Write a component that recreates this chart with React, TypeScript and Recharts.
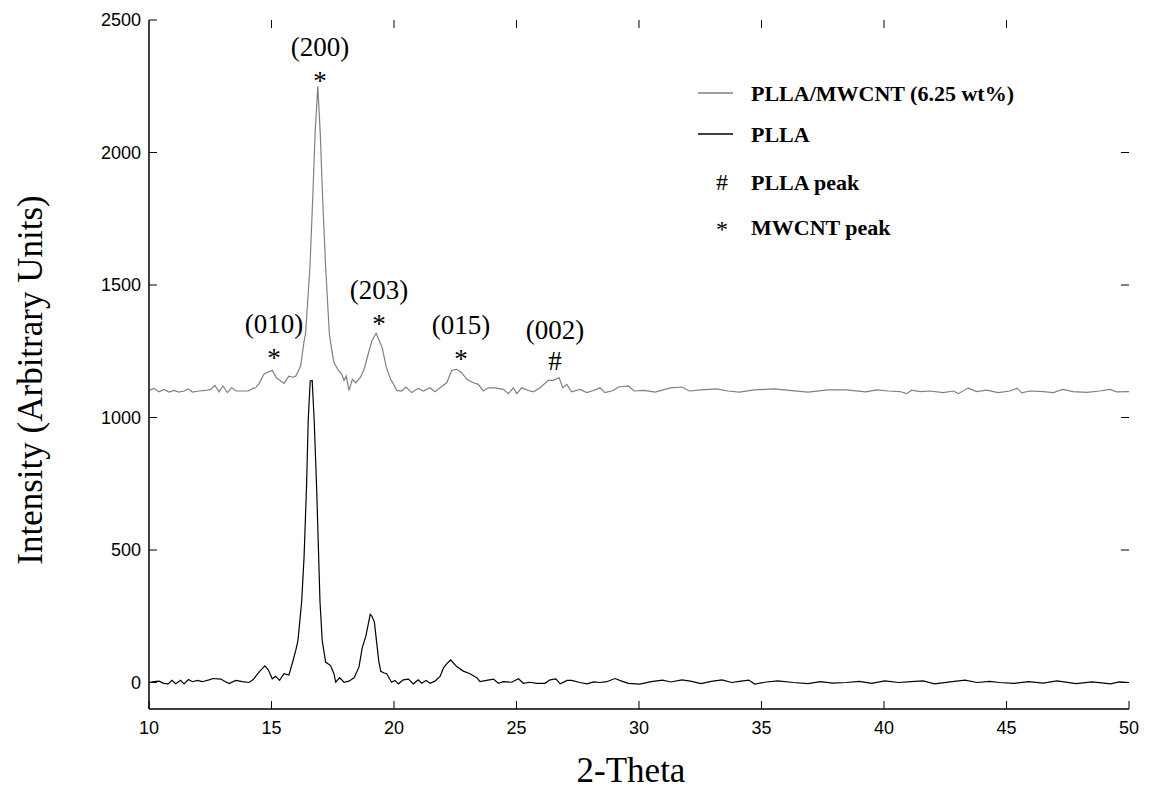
import React from 'react'
import { LineChart, Line, XAxis, YAxis, Scatter, ReferenceLine, Customized } from 'recharts'

// 2-theta / intensity, PLLA (black trace)
const pllaTheta = [
  10.0, 10.2, 10.41, 10.61, 10.79, 10.93, 11.09, 11.29, 11.43, 11.61, 11.77, 11.97, 12.18, 12.45, 12.61, 12.93,
  13.1, 13.27, 13.54, 13.81, 14.08, 14.24, 14.49, 14.73, 14.87, 15.03, 15.17, 15.33, 15.51, 15.71, 15.88, 15.99,
  16.08, 16.23, 16.33, 16.43, 16.5, 16.58, 16.66, 16.74, 16.84, 16.98, 17.07, 17.21, 17.41, 17.55, 17.62, 17.78,
  17.96, 18.16, 18.37, 18.57, 18.7, 18.85, 18.95, 19.03, 19.1, 19.2, 19.3, 19.38, 19.46, 19.6, 19.7, 19.9,
  20.04, 20.18, 20.38, 20.59, 20.79, 20.99, 21.13, 21.31, 21.47, 21.67, 21.88, 22.02, 22.15, 22.31, 22.56, 22.83,
  23.1, 23.38, 23.51, 23.78, 24.06, 24.26, 24.46, 24.8, 25.08, 25.28, 25.55, 25.82, 26.16, 26.37, 26.61, 26.78,
  27.07, 27.25, 27.59, 27.87, 28.15, 28.41, 28.68, 29.02, 29.29, 29.57, 30.03, 30.5, 30.97, 31.3, 31.75, 32.1,
  32.53, 32.95, 33.39, 33.78, 34.1, 34.48, 34.72, 35.2, 35.66, 36.3, 36.9, 37.4, 37.9, 38.47, 39.0, 39.5,
  40.03, 40.6, 41.1, 41.6, 42.06, 42.7, 43.31, 43.8, 44.3, 44.72, 45.3, 45.9, 46.5, 47.06, 47.84, 48.5,
  49.25, 49.6, 50.0,
]
const pllaIntensity = [
  0, 3, 5, -3, -5, 8, -5, 8, -5, 11, 3, 8, 3, 10, 15, 13,
  4, -4, 8, 3, 0, 10, 39, 63, 48, 14, 23, 8, 33, 28, 83, 121,
  158, 304, 475, 740, 994, 1138, 1140, 994, 740, 304, 158, 77, 64, 33, 1, 18,
  1, 5, 18, 58, 130, 175, 220, 257, 250, 228, 145, 80, 42, 36, 33, 1,
  8, -5, 10, 13, -5, 10, -3, 8, -3, 5, 23, 55, 70, 85, 60, 43,
  33, 18, 3, 8, 13, -3, 3, 1, 14, -3, 1, -3, -3, 10, 14, -5,
  8, 8, 0, -5, 2, 0, 3, 15, 5, -3, -6, 3, 9, 2, 10, 5,
  -4, 4, 10, 0, 4, 9, -6, 2, 6, 0, -4, 3, -2, 0, 4, -3,
  6, 0, 3, 6, -5, 2, 9, 0, 4, 0, -3, 3, -2, 6, -4, 2,
  -5, 2, 0,
]

// PLLA/MWCNT (6.25 wt%) (grey trace)
const compTheta = [
  10.0, 10.2, 10.41, 10.61, 10.82, 11.02, 11.22, 11.43, 11.6, 11.77, 12.04, 12.31, 12.52, 12.69, 12.86, 13.02,
  13.2, 13.37, 13.56, 13.81, 14.05, 14.22, 14.35, 14.49, 14.69, 14.87, 15.03, 15.2, 15.35, 15.51, 15.71, 15.85,
  15.99, 16.19, 16.33, 16.39, 16.57, 16.68, 16.78, 16.89, 16.99, 17.09, 17.21, 17.36, 17.45, 17.55, 17.73, 17.86,
  17.96, 18.05, 18.16, 18.3, 18.44, 18.64, 18.78, 18.98, 19.1, 19.27, 19.4, 19.52, 19.69, 19.86, 19.97, 20.11,
  20.31, 20.49, 20.72, 20.99, 21.2, 21.47, 21.67, 21.88, 22.15, 22.36, 22.56, 22.76, 22.97, 23.24, 23.44, 23.65,
  23.85, 24.12, 24.46, 24.67, 24.87, 25.01, 25.21, 25.48, 25.69, 25.96, 26.3, 26.5, 26.74, 26.89, 27.05, 27.25,
  27.59, 27.87, 28.14, 28.41, 28.61, 28.95, 29.16, 29.57, 29.8, 30.2, 30.66, 31.28, 31.75, 32.06, 32.53, 33.16,
  33.63, 34.09, 34.72, 35.5, 36.13, 36.9, 37.7, 38.47, 39.25, 39.72, 40.19, 40.65, 40.92, 41.13, 41.47, 41.87,
  42.42, 42.83, 43.03, 43.44, 43.78, 44.19, 44.66, 45.14, 45.44, 45.62, 45.96, 46.5, 46.91, 47.29, 47.72, 48.27,
  48.81, 49.22, 49.49, 50.0,
]
const compIntensity = [
  1102, 1110, 1097, 1106, 1096, 1102, 1096, 1100, 1108, 1096, 1100, 1102, 1106, 1121, 1097, 1119,
  1094, 1112, 1100, 1100, 1100, 1109, 1112, 1128, 1163, 1172, 1178, 1150, 1140, 1129, 1156, 1152,
  1156, 1194, 1288, 1316, 1568, 1821, 2073, 2250, 2073, 1821, 1568, 1316, 1260, 1207, 1178, 1165,
  1140, 1156, 1102, 1144, 1131, 1153, 1182, 1251, 1290, 1318, 1290, 1263, 1188, 1144, 1128, 1102,
  1100, 1115, 1094, 1110, 1100, 1112, 1097, 1112, 1131, 1178, 1182, 1169, 1144, 1131, 1125, 1100,
  1112, 1112, 1106, 1090, 1112, 1090, 1112, 1102, 1097, 1112, 1140, 1140, 1150, 1112, 1125, 1097,
  1106, 1094, 1102, 1112, 1094, 1102, 1115, 1119, 1100, 1102, 1096, 1112, 1115, 1100, 1104, 1108,
  1100, 1096, 1104, 1108, 1102, 1096, 1104, 1104, 1097, 1104, 1100, 1098, 1090, 1103, 1098, 1100,
  1094, 1100, 1090, 1111, 1098, 1103, 1094, 1100, 1111, 1093, 1100, 1098, 1094, 1106, 1098, 1095,
  1100, 1106, 1097, 1098,
]

// peak annotations on the grey trace
const peakTheta = [15.1, 16.98, 19.39, 22.73, 26.57]
const peakMarkY = [1236, 2280, 1364, 1232, 1213]
const peakHkl = ['(010)', '(200)', '(203)', '(015)', '(002)']
const peakMark = ['*', '*', '*', '*', '#']

const xTicks = [10, 15, 20, 25, 30, 35, 40, 45, 50]
const yTicks = [0, 500, 1000, 1500, 2000, 2500]
const X_MIN = 10
const X_MAX = 50
const Y_MIN = -100
const Y_MAX = 2500

const pllaData = pllaTheta.map((x, i) => ({ x, y: pllaIntensity[i] }))
const compData = compTheta.map((x, i) => ({ x, y: compIntensity[i] }))
const peakData = peakTheta.map((x, i) => ({ x, y: peakMarkY[i], hkl: peakHkl[i], mark: peakMark[i] }))

// inner tick length on top / right edges, in data units (about 8px)
const topTickLen = 30
const rightTickLen = 0.33

const SERIF = '"Liberation Serif", "Times New Roman", serif'
const SANS = '"Liberation Sans", Arial, sans-serif'

// ticks point into the plot box
const BottomTick = (props: any) => {
  const { x, y, payload } = props
  return (
    <g>
      <line x1={x} x2={x} y1={y} y2={y - 8} stroke="#000" strokeWidth={1} />
      <text x={x} y={y + 25} textAnchor="middle" fontFamily={SANS} fontSize={18} fill="#000">
        {payload.value}
      </text>
    </g>
  )
}

const LeftTick = (props: any) => {
  const { x, y, payload } = props
  return (
    <g>
      <line x1={x} x2={x + 8} y1={y} y2={y} stroke="#000" strokeWidth={1} />
      <text x={x - 8} y={y + 6} textAnchor="end" fontFamily={SANS} fontSize={18} fill="#000">
        {payload.value}
      </text>
    </g>
  )
}

const PeakLabel = (props: any) => {
  const { cx, cy, payload } = props
  const markBase = payload.mark === '*' ? cy + 12 : cy + 9
  return (
    <g>
      <text x={cx} y={cy - 22} textAnchor="middle" fontFamily={SERIF} fontSize={27} fill="#000">
        {payload.hkl}
      </text>
      <text x={cx} y={markBase} textAnchor="middle" fontFamily={SERIF} fontSize={27} fill="#000">
        {payload.mark}
      </text>
    </g>
  )
}

// titles and legend
const Decorations = () => {
  const rows = [
    { y: 93, kind: 'line', color: '#808080', text: 'PLLA/MWCNT (6.25 wt%)' },
    { y: 134, kind: 'line', color: '#000', text: 'PLLA' },
    { y: 182, kind: '#', color: '#000', text: 'PLLA peak' },
    { y: 227, kind: '*', color: '#000', text: 'MWCNT peak' },
  ]
  return (
    <g>
      <text x={631} y={782} textAnchor="middle" fontFamily={SERIF} fontSize={35} fill="#000">
        2-Theta
      </text>
      <text
        transform="translate(42, 380) rotate(-90)"
        textAnchor="middle"
        fontFamily={SERIF}
        fontSize={35}
        fill="#000"
      >
        Intensity (Arbitrary Units)
      </text>
      {rows.map((r) => (
        <g key={r.text}>
          {r.kind === 'line' ? (
            <line x1={698} x2={733} y1={r.y} y2={r.y} stroke={r.color} strokeWidth={1.5} />
          ) : (
            <text
              x={722}
              y={r.kind === '*' ? r.y + 10 : r.y + 8}
              textAnchor="middle"
              fontFamily={SERIF}
              fontSize={24}
              fill="#000"
            >
              {r.kind}
            </text>
          )}
          <text x={751} y={r.y + 8} fontFamily={SERIF} fontSize={22} fontWeight="bold" fill="#000">
            {r.text}
          </text>
        </g>
      ))}
    </g>
  )
}

export default function App() {
  return (
    <div style={{ position: 'absolute', left: 0, top: 0, background: '#fff' }}>
      <LineChart width={1155} height={792} margin={{ top: 20, right: 26, bottom: 53, left: 89 }}>
        <XAxis
          dataKey="x"
          type="number"
          domain={[X_MIN, X_MAX]}
          ticks={xTicks}
          interval={0}
          allowDataOverflow
          height={30}
          tickSize={0}
          tickMargin={0}
          tick={<BottomTick />}
          axisLine={{ stroke: '#000', strokeWidth: 1.5 }}
        />
        <XAxis
          xAxisId="top"
          orientation="top"
          dataKey="x"
          type="number"
          domain={[X_MIN, X_MAX]}
          height={0}
          tick={false}
          tickLine={false}
          axisLine={{ stroke: '#000', strokeWidth: 1.5 }}
        />
        <YAxis
          type="number"
          domain={[Y_MIN, Y_MAX]}
          ticks={yTicks}
          interval={0}
          allowDataOverflow
          width={60}
          tickSize={0}
          tickMargin={0}
          tick={<LeftTick />}
          axisLine={{ stroke: '#000', strokeWidth: 1.5 }}
        />
        <YAxis
          yAxisId="right"
          orientation="right"
          type="number"
          domain={[Y_MIN, Y_MAX]}
          width={0}
          tick={false}
          tickLine={false}
          axisLine={{ stroke: '#000', strokeWidth: 1.5 }}
        />
        {xTicks.slice(1, -1).map((t) => (
          <ReferenceLine
            key={'tt' + t}
            segment={[
              { x: t, y: Y_MAX },
              { x: t, y: Y_MAX - topTickLen },
            ]}
            stroke="#000"
            strokeWidth={1}
          />
        ))}
        {yTicks.slice(0, -1).map((t) => (
          <ReferenceLine
            key={'rt' + t}
            segment={[
              { x: X_MAX, y: t },
              { x: X_MAX - rightTickLen, y: t },
            ]}
            stroke="#000"
            strokeWidth={1}
          />
        ))}
        <Line
          data={compData}
          dataKey="y"
          type="linear"
          stroke="#808080"
          strokeWidth={1.2}
          dot={false}
          isAnimationActive={false}
        />
        <Line
          data={pllaData}
          dataKey="y"
          type="linear"
          stroke="#000"
          strokeWidth={1.2}
          dot={false}
          isAnimationActive={false}
        />
        <Scatter data={peakData} dataKey="y" shape={<PeakLabel />} isAnimationActive={false} />
        <Customized component={<Decorations />} />
      </LineChart>
    </div>
  )
}
